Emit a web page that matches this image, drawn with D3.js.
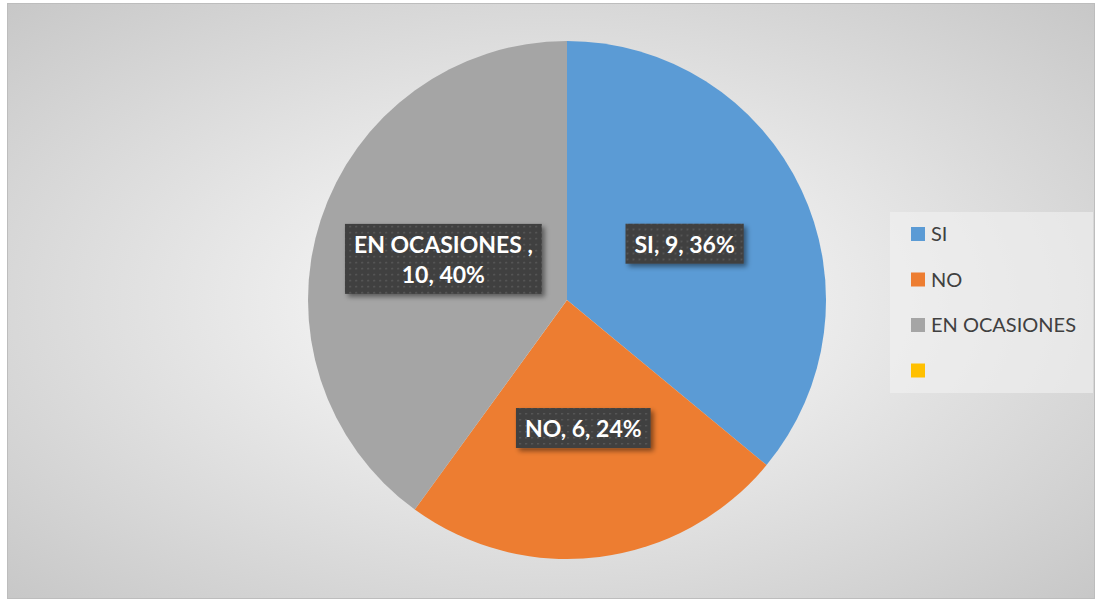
<!DOCTYPE html>
<html>
<head>
<meta charset="utf-8">
<script src="https://cdn.jsdelivr.net/npm/d3@7"></script>
<style>
  body { margin: 0; background: #fff; }
  svg { display: block; }
</style>
</head>
<body>
<div id="chart"></div>
<script>
const categories = ["SI", "NO", "EN OCASIONES", ""];
const values = [9, 6, 10, 0];
const colors = ["#5B9BD5", "#ED7D31", "#A5A5A5", "#FFC000"];

const W = 1096, H = 601;
const cx = 567, cy = 300, R = 259;

const svg = d3.select("#chart").append("svg")
    .attr("width", W)
    .attr("height", H);

const defs = svg.append("defs");

const bg = defs.append("radialGradient")
    .attr("id", "bg")
    .attr("cx", "50%").attr("cy", "50%").attr("r", "75%");
bg.append("stop").attr("offset", "0%").attr("stop-color", "#ffffff");
bg.append("stop").attr("offset", "100%").attr("stop-color", "#c4c4c4");

const dots = defs.append("pattern")
    .attr("id", "dots")
    .attr("width", 6).attr("height", 6)
    .attr("patternUnits", "userSpaceOnUse");
dots.append("rect").attr("width", 6).attr("height", 6).attr("fill", "#404040");
dots.append("rect").attr("x", 2).attr("y", 2).attr("width", 1.5).attr("height", 1.5).attr("fill", "#5f5f5f");

const shadow = defs.append("filter")
    .attr("id", "shadow")
    .attr("x", "-20%").attr("y", "-20%").attr("width", "150%").attr("height", "160%");
shadow.append("feDropShadow")
    .attr("dx", 3).attr("dy", 3).attr("stdDeviation", 2.5)
    .attr("flood-color", "#000").attr("flood-opacity", 0.45);

// chart area
svg.append("rect")
    .attr("x", 7.5).attr("y", 3.5)
    .attr("width", W - 9).attr("height", H - 6)
    .attr("fill", "url(#bg)")
    .attr("stroke", "#bdbdbd");

const data = categories.map((c, i) => ({ key: c, value: values[i], color: colors[i] }));
const total = d3.sum(values);

const pie = d3.pie()
    .value(d => d.value)
    .sort(null);

const arc = d3.arc().innerRadius(0).outerRadius(R);
const labelArc = d3.arc().innerRadius(0).outerRadius(R + 1);

const g = svg.append("g").attr("transform", `translate(${cx},${cy})`);
const arcs = pie(data);

g.selectAll(".slice")
    .data(arcs.filter(d => d.data.value > 0))
    .enter()
    .append("path")
    .attr("class", "slice")
    .attr("d", arc)
    .attr("fill", d => d.data.color);

// data labels
const labels = g.selectAll(".lbl")
    .data(arcs.filter(d => d.data.value > 0))
    .enter()
    .append("g")
    .attr("class", "lbl")
    .attr("transform", d => `translate(${labelArc.centroid(d)})`);

labels.each(function(d) {
    const pct = Math.round(d.data.value / total * 100) + "%";
    const lines = d.data.key === "EN OCASIONES"
        ? [d.data.key + " ,", d.data.value + ", " + pct]
        : [d.data.key + ", " + d.data.value + ", " + pct];
    const sel = d3.select(this);
    const box = sel.append("rect")
        .attr("fill", "url(#dots)")
        .attr("filter", "url(#shadow)");
    const lh = 30;
    const t = sel.append("text")
        .attr("text-anchor", "middle")
        .style("font-family", "Lato, 'Open Sans', sans-serif")
        .style("font-weight", "bold")
        .style("font-size", "23px")
        .style("fill", "#ffffff");
    lines.forEach((l, i) => {
        t.append("tspan")
            .attr("x", 0)
            .attr("y", (i - (lines.length - 1) / 2) * lh)
            .attr("dy", "0.35em")
            .text(l);
    });
    const bb = t.node().getBBox();
    box.attr("x", bb.x - 9).attr("y", bb.y - 6)
        .attr("width", bb.width + 18).attr("height", bb.height + 12);
});

// legend
const legend = svg.append("g").attr("transform", "translate(890,212)");
legend.append("rect")
    .attr("width", 203).attr("height", 181)
    .attr("fill", "#f2f2f2").attr("fill-opacity", 0.6);

const item = legend.selectAll(".item")
    .data(data)
    .enter()
    .append("g")
    .attr("class", "item")
    .attr("transform", (d, i) => `translate(21,${22 + i * 45.5})`);

item.append("rect")
    .attr("x", 0).attr("y", -7)
    .attr("width", 14).attr("height", 14)
    .attr("fill", d => d.color);

item.append("text")
    .attr("x", 20)
    .attr("dy", "0.36em")
    .style("font-family", "Lato, 'Open Sans', sans-serif")
    .style("font-size", "20px")
    .style("fill", "#404040")
    .text(d => d.key);
</script>
</body>
</html>
